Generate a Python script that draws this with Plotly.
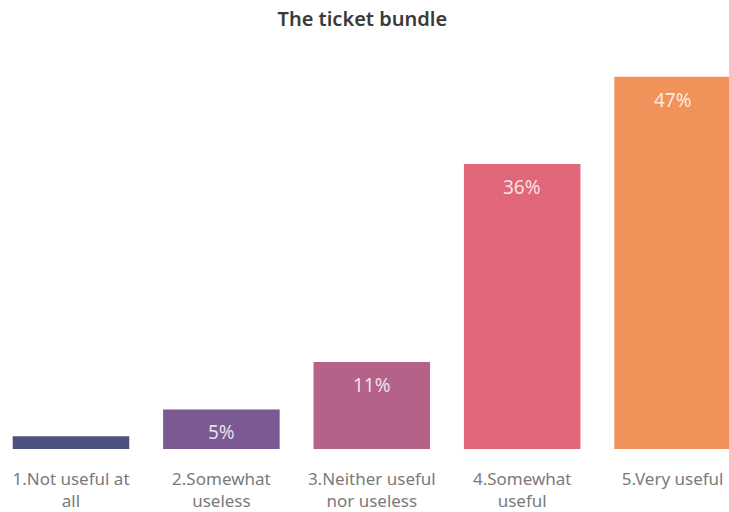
import plotly.graph_objects as go

# Survey answers for "The ticket bundle"
categories = [
    "1.Not useful at<br>all",
    "2.Somewhat<br>useless",
    "3.Neither useful<br>nor useless",
    "4.Somewhat<br>useful",
    "5.Very useful",
]
shares = [1.6, 5, 11, 36, 47]  # percent of respondents
colors = ["#4B5280", "#7B5A94", "#B5628B", "#E0677A", "#F0925A"]

xs = list(range(len(categories)))

fig = go.Figure(
    go.Bar(
        x=xs,
        y=shares,
        marker=dict(color=colors, line=dict(width=0)),
        width=0.775,
        hoverinfo="skip",
    )
)

# Value labels placed just below the top of each bar (too small bars get none)
for x, v in zip(xs, shares):
    if v >= 3:
        fig.add_annotation(
            x=x, y=v, text=f"{v:.0f}%", showarrow=False,
            yanchor="top", yshift=-8,
            font=dict(family="Noto Sans", size=19, color="rgba(255,255,255,0.82)"),
        )

fig.update_layout(
    width=729,
    height=512,
    margin=dict(l=0, r=0, t=53, b=63),
    paper_bgcolor="white",
    plot_bgcolor="white",
    showlegend=False,
    title=dict(
        text="The ticket bundle",
        x=0.497, xanchor="center",
        y=1 - 19 / 512, yanchor="middle", yref="container",
        font=dict(family="Noto Sans", size=20, weight=600, color="#3a3a3a"),
    ),
    xaxis=dict(
        range=[-0.472, 4.375],
        tickvals=xs,
        ticktext=categories,
        showgrid=False, zeroline=False, showline=False, ticks="",
        ticklabelstandoff=18,
        tickfont=dict(family="Noto Sans", size=17, color="#7a7a7a"),
    ),
    yaxis=dict(range=[0, 50], visible=False),
)

fig.write_html("out.html")
